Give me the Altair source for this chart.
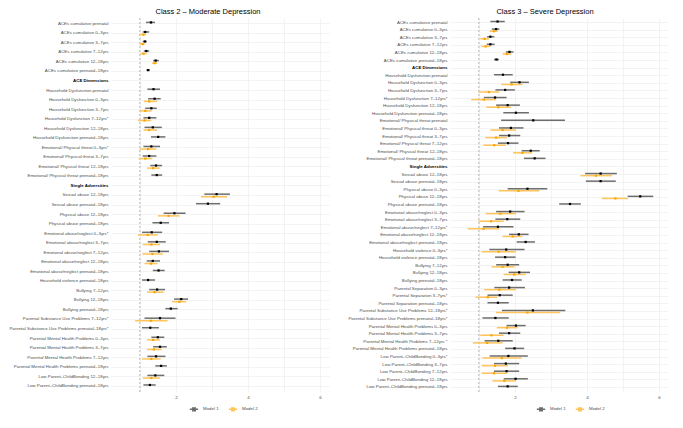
import altair as alt
import pandas as pd

# ---------------- Class 2 (Moderate Depression) ----------------
c2_labels = [
    "ACEs cumulative prenatal", "ACEs cumulative 0–3yrs", "ACEs cumulative 3–7yrs",
    "ACEs cumulative 7–12yrs", "ACEs cumulative 12–18yrs", "ACEs cumulative prenatal–18yrs",
    "ACE Dimensions",
    "Household Dysfunction prenatal", "Household Dysfunction 0–3yrs", "Household Dysfunction 3–7yrs",
    "Household Dysfunction 7–12yrs*", "Household Dysfunction 12–18yrs", "Household Dysfunction prenatal–18yrs",
    "Emotional/ Physical threat 0–3yrs*", "Emotional/ Physical threat 3–7yrs",
    "Emotional/ Physical threat 12–18yrs", "Emotional/ Physical threat prenatal–18yrs",
    "Single Adversities",
    "Sexual abuse 12–18yrs", "Sexual abuse prenatal–18yrs", "Physical abuse 12–18yrs",
    "Physical abuse prenatal–18yrs", "Emotional abuse/neglect 0–3yrs*", "Emotional abuse/neglect 3–7yrs",
    "Emotional abuse/neglect 7–12yrs", "Emotional abuse/neglect 12–18yrs", "Emotional abuse/neglect prenatal–18yrs",
    "Household violence prenatal–18yrs", "Bullying 7–12yrs", "Bullying 12–18yrs", "Bullying prenatal–18yrs",
    "Parental Substance Use Problems 7–12yrs*", "Parental Substance Use Problems prenatal–18yrs*",
    "Parental Mental Health Problems 0–3yrs", "Parental Mental Health Problems 3–7yrs",
    "Parental Mental Health Problems 7–12yrs", "Parental Mental Health Problems prenatal–18yrs",
    "Low Parent–ChildBonding 12–18yrs", "Low Parent–ChildBonding prenatal–18yrs",
]
c2_m1_est = [1.31, 1.15, 1.14, 1.18, 1.44, 1.23, None,
             1.38, 1.41, 1.32, 1.26, 1.36, 1.51,
             1.32, 1.26, 1.45, 1.47, None,
             3.13, 2.89, 1.96, 1.58, 1.33, 1.47, 1.53, 1.36, 1.52,
             1.23, 1.48, 2.15, 1.86, 1.56, 1.29,
             1.50, 1.56, 1.45, 1.59, 1.43, 1.28]
c2_m1_lo = [1.17, 1.08, 1.08, 1.11, 1.37, 1.18, None,
            1.21, 1.23, 1.15, 1.10, 1.13, 1.31,
            1.10, 1.08, 1.29, 1.32, None,
            2.79, 2.56, 1.66, 1.35, 1.06, 1.22, 1.26, 1.19, 1.36,
            1.06, 1.26, 1.95, 1.71, 1.13, 1.06,
            1.32, 1.37, 1.21, 1.43, 1.21, 1.10]
c2_m1_hi = [1.42, 1.26, 1.20, 1.26, 1.53, 1.28, None,
            1.56, 1.58, 1.47, 1.46, 1.61, 1.71,
            1.56, 1.46, 1.62, 1.62, None,
            3.50, 3.23, 2.27, 1.81, 1.62, 1.72, 1.81, 1.56, 1.69,
            1.42, 1.70, 2.34, 2.05, 1.99, 1.53,
            1.68, 1.75, 1.71, 1.75, 1.68, 1.44]
c2_m2_est = [None, 1.10, 1.08, 1.10, 1.41, None, None,
             None, 1.26, 1.15, 1.13, 1.26, None,
             1.23, 1.15, 1.37, None, None,
             3.05, None, 1.80, None, 1.22, 1.32, 1.35, 1.31, None,
             None, 1.41, 2.10, None, 1.31, None,
             1.37, 1.39, 1.32, None, 1.32, None]
c2_m2_lo = [None, 1.00, 1.00, 1.02, 1.34, None, None,
            None, 1.11, 1.00, 0.95, 1.10, None,
            0.99, 0.97, 1.20, None, None,
            2.70, None, 1.50, None, 0.95, 1.08, 1.07, 1.13, None,
            None, 1.20, 1.90, None, 0.87, None,
            1.20, 1.20, 1.06, None, 1.08, None]
c2_m2_hi = [None, 1.17, 1.14, 1.19, 1.48, None, None,
            None, 1.48, 1.33, 1.32, 1.48, None,
            1.46, 1.35, 1.55, None, None,
            3.42, None, 2.10, None, 1.50, 1.56, 1.64, 1.49, None,
            None, 1.66, 2.29, None, 1.77, None,
            1.56, 1.61, 1.58, None, 1.56, None]

# ---------------- Class 3 (Severe Depression) ----------------
c3_labels = [
    "ACEs cumulative prenatal", "ACEs cumulative 0–3yrs", "ACEs cumulative 3–7yrs",
    "ACEs cumulative 7–12yrs", "ACEs cumulative 12–18yrs", "ACEs cumulative prenatal–18yrs",
    "ACE Dimensions",
    "Household Dysfunction prenatal", "Household Dysfunction 0–3yrs", "Household Dysfunction 3–7yrs",
    "Household Dysfunction 7–12yrs*", "Household Dysfunction 12–18yrs", "Household Dysfunction prenatal–18yrs",
    "Emotional/ Physical threat prenatal", "Emotional/ Physical threat 0–3yrs", "Emotional/ Physical threat 3–7yrs",
    "Emotional/ Physical threat 7–12yrs", "Emotional/ Physical threat 12–18yrs",
    "Emotional/ Physical threat prenatal–18yrs",
    "Single Adversities",
    "Sexual abuse 12–18yrs", "Sexual abuse prenatal–18yrs", "Physical abuse 0–3yrs",
    "Physical abuse 12–18yrs", "Physical abuse prenatal–18yrs",
    "Emotional abuse/neglect 0–3yrs", "Emotional abuse/neglect 3–7yrs", "Emotional abuse/neglect 7–12yrs*",
    "Emotional abuse/neglect 12–18yrs", "Emotional abuse/neglect prenatal–18yrs",
    "Household violence 0–3yrs*", "Household violence prenatal–18yrs",
    "Bullying 7–12yrs", "Bullying 12–18yrs", "Bullying prenatal–18yrs",
    "Parental Separation 0–3yrs", "Parental Separation 3–7yrs*", "Parental Separation prenatal–18yrs",
    "Parental Substance Use Problems 12–18yrs*", "Parental Substance Use Problems prenatal–18yrs*",
    "Parental Mental Health Problems 0–3yrs", "Parental Mental Health Problems 3–7yrs",
    "Parental Mental Health Problems 7–12yrs *", "Parental Mental Health Problems prenatal–18yrs",
    "Low Parent–ChildBonding 0–3yrs*", "Low Parent–ChildBonding 3–7yrs", "Low Parent–ChildBonding 7–12yrs",
    "Low Parent–ChildBonding 12–18yrs", "Low Parent–ChildBonding prenatal–18yrs",
]
c3_m1_est = [1.52, 1.48, 1.32, 1.32, 1.85, 1.49, None,
             1.67, 2.13, 1.73, 1.45, 1.80, 2.03,
             2.51, 1.89, 1.84, 1.81, 2.44, 2.55, None,
             4.38, 4.38, 2.35, 5.48, 3.53,
             1.87, 1.79, 1.53, 2.11, 2.30,
             1.76, 1.73, 1.80, 2.12, 1.92,
             1.84, 1.58, 1.53, 2.50, 1.46,
             2.03, 1.84, 1.54, 1.99,
             1.82, 1.75, 1.77, 2.02, 1.80]
c3_m1_lo = [1.32, 1.36, 1.23, 1.22, 1.75, 1.42, None,
            1.42, 1.87, 1.46, 1.14, 1.48, 1.68,
            1.62, 1.56, 1.56, 1.53, 2.19, 2.25, None,
            3.95, 3.97, 1.80, 5.13, 3.23,
            1.48, 1.46, 1.12, 1.84, 2.05,
            1.29, 1.45, 1.48, 1.83, 1.66,
            1.43, 1.24, 1.24, 1.64, 1.10,
            1.77, 1.56, 1.16, 1.73,
            1.30, 1.42, 1.42, 1.69, 1.53]
c3_m1_hi = [1.72, 1.57, 1.43, 1.44, 1.96, 1.56, None,
            1.94, 2.39, 2.00, 1.77, 2.14, 2.39,
            3.39, 2.24, 2.15, 2.10, 2.69, 2.85, None,
            4.83, 4.80, 2.90, 5.84, 3.83,
            2.27, 2.15, 1.96, 2.38, 2.56,
            2.27, 2.02, 2.12, 2.42, 2.19,
            2.28, 1.94, 1.83, 3.40, 1.83,
            2.30, 2.15, 1.94, 2.26,
            2.36, 2.12, 2.12, 2.36, 2.08]
c3_m2_est = [None, 1.42, 1.16, 1.19, 1.78, None, None,
             None, 1.91, 1.28, 1.14, 1.54, None,
             None, 1.66, 1.48, 1.43, 2.21, None, None,
             4.25, None, 2.10, 4.79, None,
             1.60, 1.34, 1.13, 1.94, None,
             1.55, None, 1.66, 1.98, None,
             1.57, 1.25, None, 2.35, None,
             1.78, 1.35, 1.23, None,
             1.64, 1.45, 1.42, 1.71, None]
c3_m2_lo = [None, 1.30, 1.04, 1.07, 1.66, None, None,
            None, 1.62, 0.99, 0.79, 1.21, None,
            None, 1.32, 1.18, 1.13, 1.95, None, None,
            3.82, None, 1.55, 4.41, None,
            1.19, 0.99, 0.69, 1.66, None,
            1.08, None, 1.35, 1.69, None,
            1.15, 0.91, None, 1.48, None,
            1.50, 1.04, 0.84, None,
            1.10, 1.08, 1.08, 1.38, None]
c3_m2_hi = [None, 1.52, 1.28, 1.32, 1.90, None, None,
            None, 2.21, 1.57, 1.48, 1.89, None,
            None, 2.03, 1.78, 1.75, 2.48, None, None,
            4.69, None, 2.68, 5.14, None,
            2.03, 1.69, 1.57, 2.21, None,
            2.03, None, 1.99, 2.30, None,
            2.03, 1.51, None, 3.26, None,
            2.08, 1.69, 1.66, None,
            2.19, 1.81, 1.78, 2.03, None]

models = ["Model 1", "Model 2"]


def make_df(labels, m1e, m1l, m1h, m2e, m2l, m2h):
    rows = []
    for i, lab in enumerate(labels):
        if m1e[i] is not None:
            rows.append(dict(label=lab, model="Model 1", est=m1e[i], lo=m1l[i], hi=m1h[i]))
        if m2e[i] is not None:
            rows.append(dict(label=lab, model="Model 2", est=m2e[i], lo=m2l[i], hi=m2h[i]))
    return pd.DataFrame(rows)


HEADER_TEST = "indexof(['ACE Dimensions','Single Adversities'], datum.value) >= 0"
LEGEND_SYMBOL = "M-1,0L1,0M-0.3,-0.3L0.3,-0.3L0.3,0.3L-0.3,0.3Z"
H = 374
LABEL_FS = 4.4


def panel(df, labels, title, width, title_dx, legend_x):
    xs = alt.Scale(domain=[0.2, 6.25], nice=False, zero=False)
    ys = alt.Scale(domain=labels, paddingInner=0.45, paddingOuter=0.325)
    yax = alt.Axis(
        title=None, labelFontSize=LABEL_FS, labelPadding=3, ticks=False, domain=False,
        grid=True, gridColor="#ebebeb", gridWidth=0.6, labelLimit=300,
        labelColor={"expr": HEADER_TEST + " ? '#000000' : '#4d4d4d'"},
        labelFontWeight={"expr": HEADER_TEST + " ? 'bold' : 'normal'"},
    )
    xax = alt.Axis(
        title=None, values=[1, 2, 3, 4, 5, 6],
        labelExpr="datum.value % 2 == 0 ? datum.label : ''",
        labelFontSize=LABEL_FS, labelColor="#4d4d4d", labelPadding=3,
        ticks=False, domain=False, grid=True, gridColor="#ebebeb", gridWidth=0.6,
    )
    base = alt.Chart(df).encode(
        y=alt.Y("label:N", scale=ys, axis=yax),
        yOffset=alt.YOffset("model:N", scale=alt.Scale(domain=models)),
    )
    bars = base.mark_rule(strokeWidth=1.5).encode(
        x=alt.X("lo:Q", scale=xs, axis=xax),
        x2="hi:Q",
        stroke=alt.Stroke(
            "model:N",
            scale=alt.Scale(domain=models, range=["#6e6e6e", "#ffc45a"]),
            legend=alt.Legend(
                title=None, orient="none", direction="horizontal",
                legendX=legend_x, legendY=H + 12,
                labelFontSize=LABEL_FS, labelColor="#4d4d4d",
                symbolType=LEGEND_SYMBOL, symbolSize=70, symbolStrokeWidth=1.5,
                columnPadding=6,
            ),
        ),
    )
    pts = base.mark_square(size=5, opacity=1).encode(
        x="est:Q",
        fill=alt.Fill("model:N", scale=alt.Scale(domain=models, range=["#000000", "#ffa500"]), legend=None),
    )
    vline = alt.Chart(pd.DataFrame({"v": [1]})).mark_rule(
        strokeDash=[2, 2], color="#9a9a9a", strokeWidth=0.7
    ).encode(x=alt.X("v:Q", scale=xs))
    return alt.layer(vline, bars, pts).properties(
        width=width, height=H,
        title=alt.TitleParams(title, fontSize=7.5, fontWeight="normal", anchor="middle",
                              dx=title_dx, offset=2, color="#000000"),
    )


df2 = make_df(c2_labels, c2_m1_est, c2_m1_lo, c2_m1_hi, c2_m2_est, c2_m2_lo, c2_m2_hi)
df3 = make_df(c3_labels, c3_m1_est, c3_m1_lo, c3_m1_hi, c3_m2_est, c3_m2_lo, c3_m2_hi)

left = panel(df2, c2_labels, "Class 2 – Moderate Depression", 218, -12, 78)
right = panel(df3, c3_labels, "Class 3 – Severe Depression", 218, -14, 86)

chart = alt.hconcat(left, right, spacing=18).resolve_scale(
    y="independent", yOffset="independent", stroke="independent", fill="independent"
).properties(
    padding={"left": 0, "top": 0, "right": 0, "bottom": 0}
).configure(
    font="Liberation Sans"
).configure_view(stroke=None)

chart.save("out.html", embed_options={"renderer": "svg", "actions": False})
